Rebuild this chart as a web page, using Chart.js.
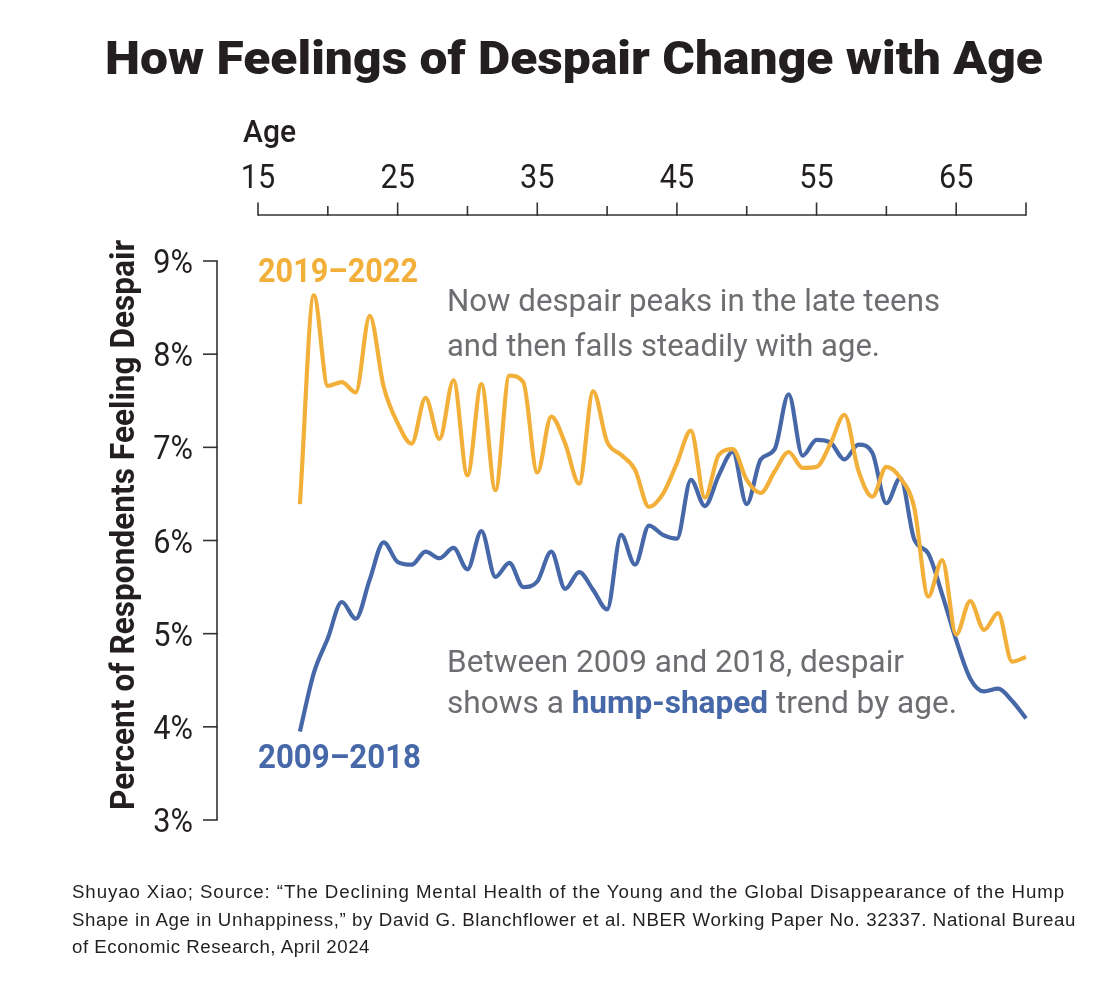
<!DOCTYPE html>
<html>
<head>
<meta charset="utf-8">
<script src="https://cdn.jsdelivr.net/npm/chart.js@4.4.1/dist/chart.umd.min.js"></script>
<style>
html,body{margin:0;padding:0;background:#fff;}
#wrap{position:relative;width:1112px;height:990px;overflow:hidden;background:#fff;}
#chartBox{position:absolute;left:0;top:0;width:1112px;height:990px;}
.fit{position:absolute;white-space:nowrap;transform-origin:0 0;}
#title{left:105px;top:35px;font-family:Roboto,'Liberation Sans',sans-serif;font-weight:900;font-size:46px;line-height:46px;color:#231f20;}
#footer{left:72px;top:878px;font-family:'Liberation Sans',Arial,sans-serif;font-size:18.7px;line-height:27.5px;color:#231f20;}
#footer div{white-space:nowrap;}
#footer span{display:inline-block;white-space:nowrap;}
</style>
</head>
<body>
<div id="wrap">
  <div id="chartBox"><canvas id="c"></canvas></div>
  <div id="title" class="fit">How Feelings of Despair Change with Age</div>
  <div id="footer" class="fit">
    <div><span id="f1">Shuyao Xiao; Source: “The Declining Mental Health of the Young and the Global Disappearance of the Hump</span></div>
    <div><span id="f2">Shape in Age in Unhappiness,” by David G. Blanchflower et al. NBER Working Paper No. 32337. National Bureau</span></div>
    <div><span id="f3">of Economic Research, April 2024</span></div>
  </div>
</div>
<script>
// ---------- DATA ----------
const ages = [18,19,20,21,22,23,24,25,26,27,28,29,30,31,32,33,34,35,36,37,38,39,40,41,42,43,44,45,46,47,48,49,50,51,52,53,54,55,56,57,58,59,60,61,62,63,64,65,66,67,68,69,70];
const despair2019_2022 = [6.39,8.63,7.66,7.70,7.59,8.41,7.65,7.26,7.04,7.53,7.09,7.72,6.70,7.68,6.54,7.77,7.70,6.73,7.33,7.04,6.61,7.60,7.06,6.92,6.76,6.36,6.50,6.83,7.18,6.46,6.92,6.98,6.65,6.51,6.74,6.95,6.78,6.79,7.04,7.35,6.75,6.47,6.79,6.67,6.35,5.40,5.79,4.99,5.35,5.04,5.22,4.70,4.75];
const despair2009_2018 = [3.95,4.58,4.95,5.34,5.16,5.58,5.98,5.77,5.74,5.88,5.81,5.92,5.69,6.10,5.61,5.76,5.50,5.56,5.88,5.48,5.66,5.47,5.26,6.06,5.74,6.16,6.06,6.02,6.65,6.37,6.70,6.95,6.39,6.87,6.98,7.57,6.91,7.08,7.05,6.87,7.03,6.94,6.40,6.67,6.01,5.86,5.42,4.93,4.52,4.38,4.41,4.28,4.09];
const xTickValues = [15,20,25,30,35,40,45,50,55,60,65,70];
const xTickLabels = ['15','','25','','35','','45','','55','','65',''];
const yTickValues = [3,4,5,6,7,8,9];
const yTickLabels = ['3%','4%','5%','6%','7%','8%','9%'];
const seriesNames = ['2019–2022','2009–2018'];

const ORANGE = '#F2B03A';
const BLUE = '#4668A8';
const GRAY = '#6d6e71';
const DARK = '#231f20';
const FAM = "Roboto, 'Liberation Sans', sans-serif";

function fitText(ctx, text, x, y, font, targetW, align, color) {
  ctx.save();
  ctx.font = font;
  ctx.fillStyle = color;
  ctx.textBaseline = 'alphabetic';
  const w = ctx.measureText(text).width;
  const s = targetW ? targetW / w : 1;
  ctx.translate(x, y);
  ctx.scale(s, 1);
  ctx.textAlign = align || 'left';
  ctx.fillText(text, 0, 0);
  ctx.restore();
}

function mixedText(ctx, parts, x, y, targetW) {
  ctx.save();
  ctx.textBaseline = 'alphabetic';
  let total = 0;
  parts.forEach(p => { ctx.font = p.font; p.w = ctx.measureText(p.text).width; total += p.w; });
  const s = targetW / total;
  ctx.translate(x, y);
  ctx.scale(s, 1);
  let cx = 0;
  parts.forEach(p => { ctx.font = p.font; ctx.fillStyle = p.color; ctx.fillText(p.text, cx, 0); cx += p.w; });
  ctx.restore();
}

const axesPlugin = {
  id: 'customAxes',
  afterDatasetsDraw(chart) {
    const ctx = chart.ctx;
    const xs = chart.scales.x, ys = chart.scales.y;
    ctx.save();
    ctx.strokeStyle = '#333';
    ctx.lineWidth = 1.6;
    ctx.lineCap = 'butt';
    // x axis (top)
    const axY = 215;
    ctx.beginPath();
    ctx.moveTo(xs.getPixelForValue(15), axY);
    ctx.lineTo(xs.getPixelForValue(70), axY);
    ctx.stroke();
    xTickValues.forEach((v, i) => {
      const px = xs.getPixelForValue(v);
      const len = (xTickLabels[i] !== '' || i === xTickValues.length - 1) ? 12.5 : 9;
      ctx.beginPath();
      ctx.moveTo(px, axY + 0.8);
      ctx.lineTo(px, axY - len);
      ctx.stroke();
      if (xTickLabels[i] !== '') {
        ctx.save();
        ctx.font = '400 34px ' + FAM;
        const w = ctx.measureText(xTickLabels[i]).width;
        ctx.restore();
        fitText(ctx, xTickLabels[i], px, 188, '400 34px ' + FAM, w * 0.9, 'center', DARK);
      }
    });
    // y axis (left)
    const axX = 217;
    ctx.beginPath();
    ctx.moveTo(axX, ys.getPixelForValue(9));
    ctx.lineTo(axX, ys.getPixelForValue(3));
    ctx.stroke();
    yTickValues.forEach((v, i) => {
      const py = ys.getPixelForValue(v);
      ctx.beginPath();
      ctx.moveTo(axX + 0.8, py);
      ctx.lineTo(203, py);
      ctx.stroke();
      ctx.save();
      ctx.font = '400 33px ' + FAM;
      const w = ctx.measureText(yTickLabels[i]).width;
      ctx.restore();
      fitText(ctx, yTickLabels[i], 193, py + 12, '400 33px ' + FAM, w * 0.93, 'right', DARK);
    });
    ctx.restore();

    // axis titles
    fitText(ctx, 'Age', 243, 142, '500 31px ' + FAM, 53, 'left', DARK);
    ctx.save();
    ctx.translate(134, 525);
    ctx.rotate(-Math.PI / 2);
    fitText(ctx, 'Percent of Respondents Feeling Despair', 0, 0, '700 33px ' + FAM, 570, 'center', DARK);
    ctx.restore();

    // series labels
    fitText(ctx, seriesNames[0], 258, 282, '700 33px ' + FAM, 160, 'left', ORANGE);
    fitText(ctx, seriesNames[1], 258, 768, '700 33px ' + FAM, 163, 'left', BLUE);

    // annotations
    const reg = '400 32px ' + FAM;
    fitText(ctx, 'Now despair peaks in the late teens', 447, 311, reg, 493, 'left', GRAY);
    fitText(ctx, 'and then falls steadily with age.', 447, 356, reg, 433, 'left', GRAY);
    fitText(ctx, 'Between 2009 and 2018, despair', 447, 672, reg, 457, 'left', GRAY);
    mixedText(ctx, [
      {text: 'shows a ', font: reg, color: GRAY},
      {text: 'hump-shaped', font: '700 32px ' + FAM, color: BLUE},
      {text: ' trend by age.', font: reg, color: GRAY}
    ], 447, 713, 510);
  }
};

const ctx = document.getElementById('c').getContext('2d');
new Chart(ctx, {
  type: 'line',
  data: {
    datasets: [
      {
        label: seriesNames[0],
        data: ages.map((a, i) => ({x: a, y: despair2019_2022[i]})),
        borderColor: ORANGE,
        borderWidth: 4.2,
        pointRadius: 0,
        cubicInterpolationMode: 'monotone',
        fill: false,
        clip: false
      },
      {
        label: seriesNames[1],
        data: ages.map((a, i) => ({x: a, y: despair2009_2018[i]})),
        borderColor: BLUE,
        borderWidth: 4.2,
        pointRadius: 0,
        cubicInterpolationMode: 'monotone',
        fill: false,
        clip: false
      }
    ]
  },
  options: {
    responsive: true,
    maintainAspectRatio: false,
    animation: false,
    layout: { padding: { left: 258, right: 86, top: 261, bottom: 170 } },
    plugins: { legend: { display: false }, tooltip: { enabled: false }, title: { display: false } },
    scales: {
      x: { type: 'linear', min: 15, max: 70, display: false },
      y: { type: 'linear', min: 3, max: 9, display: false }
    }
  },
  plugins: [axesPlugin]
});

// fit DOM texts to reference widths
function fitDom(el, target) {
  const w = el.getBoundingClientRect().width;
  if (w > 0) el.style.transform = 'scaleX(' + (target / w) + ')';
}
function spaceTo(el, target) {
  const w = el.getBoundingClientRect().width;
  const n = el.textContent.length;
  if (w > 0 && n > 1) el.style.letterSpacing = ((target - w) / n).toFixed(3) + 'px';
}
fitDom(document.getElementById('title'), 938);
spaceTo(document.getElementById('f1'), 993);
spaceTo(document.getElementById('f2'), 1004);
spaceTo(document.getElementById('f3'), 298);
</script>
</body>
</html>
